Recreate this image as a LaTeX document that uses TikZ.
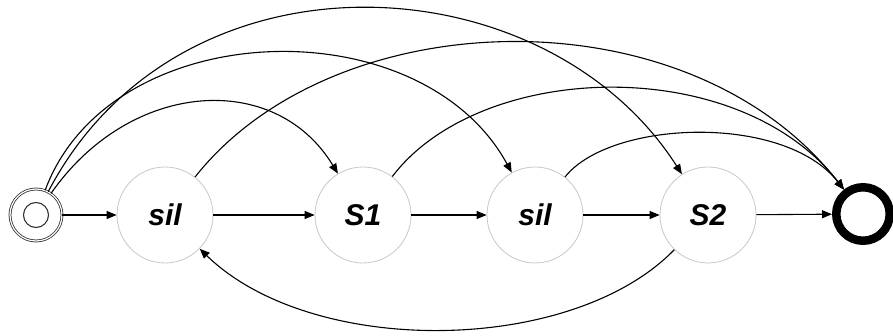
\documentclass[tikz,border=0pt]{standalone}
\usepackage{fontspec}
\setmainfont{Liberation Sans}
\usetikzlibrary{arrows.meta}
\begin{document}
\begin{tikzpicture}[x=1pt,y=-1pt,
  state/.style={circle,draw=black!22,line width=0.8pt,minimum size=96pt,inner sep=0pt,
    font=\fontsize{30}{36}\selectfont\bfseries\itshape},
  arr/.style={draw=black,line width=1.1pt,-{Triangle[length=10pt,width=8pt]}},
  startnode/.style={circle,draw=black!80,double=white,double distance=1.2pt,line width=0.8pt,minimum size=52pt,inner sep=0pt},
  inner/.style={circle,draw=black!80,line width=1.1pt,minimum size=25pt,inner sep=0pt},
  endnode/.style={circle,draw=black,line width=8.5pt,minimum size=53.5pt,inner sep=0pt}]
\useasboundingbox (0,0) rectangle (893,336);
\node[startnode] (st) at (36,215) {};
\node[inner] (sti) at (36,215) {};
\node[state] (s1) at (165,215) {sil};
\node[state] (a1) at (363,215) {S1};
\node[state] (s2) at (535,215) {sil};
\node[state] (a2) at (708,215) {S2};
\node[endnode] (en) at (863,214) {};
% straight arrows
\draw[arr] (st) -- (s1);
\draw[arr] (s1) -- (a1);
\draw[arr] (a1) -- (s2);
\draw[arr] (s2) -- (a2);
\draw[arr] (a2) -- (en);
% arcs from start
\draw[arr] (st) .. controls (130,80) and (275,70) .. (a1);
\draw[arr] (st) .. controls (110,15) and (420,5) .. (s2);
\draw[arr] (st) .. controls (180,-60) and (545,-40) .. (a2);
% arcs to end
\draw[arr] (s1) .. controls (335,0) and (689,-9) .. (en);
\draw[arr] (a1) .. controls (481,60) and (738,53) .. (en);
\draw[arr] (s2) .. controls (610,120) and (784,113) .. (en);
% back arc
\draw[arr] (a2) .. controls (572,355) and (312,358) .. (s1);
\end{tikzpicture}
\end{document}
